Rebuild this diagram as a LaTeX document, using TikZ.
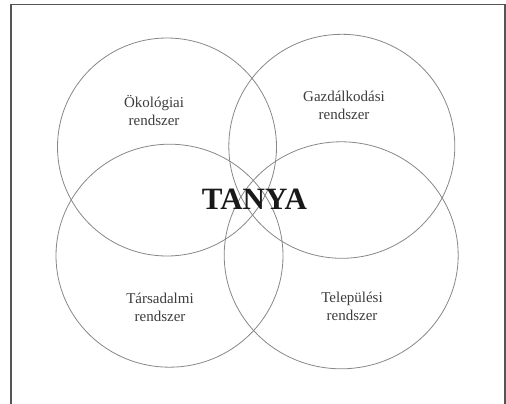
\documentclass[tikz,border=0pt]{standalone}
\usepackage{fontspec}
\setmainfont{Liberation Serif}
\usetikzlibrary{shapes.geometric}
\definecolor{ringgray}{RGB}{135,135,135}
\definecolor{textgray}{RGB}{60,60,60}
\definecolor{framegray}{RGB}{85,85,85}
\tikzset{
set_ring/.style={ellipse, draw=ringgray, line width=0.8pt, inner sep=0pt},
set_label/.style={align=center, text=textgray, font=\fontsize{15}{18}\selectfont},
core_label/.style={text=black!90, font=\fontsize{31}{31}\selectfont\bfseries}
}

\begin{document}
\begin{tikzpicture}[x=1pt, y=-1pt]
    \useasboundingbox (0,0) rectangle (506,404);
    \draw[framegray, line width=1.5pt] (11,404) -- (11,4.5) -- (505,4.5) -- (505,404);

    \node[set_ring, minimum width=219pt, minimum height=218pt] (ring_eco) at (167,147) {};
    \node[set_ring, minimum width=226pt, minimum height=224pt] (ring_farm) at (341.8,146.3) {};
    \node[set_ring, minimum width=227pt, minimum height=223pt] (ring_social) at (169.5,255.7) {};
    \node[set_ring, minimum width=234pt, minimum height=227pt] (ring_settle) at (341.2,255.3) {};

    \node[set_label] (label_eco) at (154,110) {Ökológiai\\rendszer};
    \node[set_label] (label_farm) at (344,105) {Gazdálkodási\\rendszer};
    \node[set_label] (label_social) at (160,307) {Társadalmi\\rendszer};
    \node[set_label] (label_settle) at (352,306) {Települési\\rendszer};

    \node[core_label] (tanya) at (254.5,199) {TANYA};
\end{tikzpicture}
\end{document}
